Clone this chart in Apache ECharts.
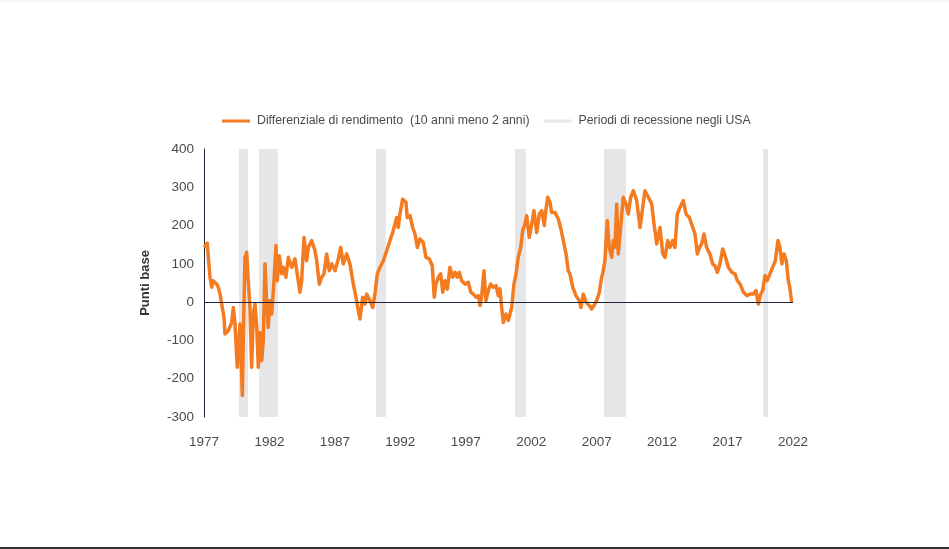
<!DOCTYPE html>
<html>
<head>
<meta charset="utf-8">
<script src="https://cdn.jsdelivr.net/npm/echarts@6/dist/echarts.min.js"></script>
<style>
html,body{margin:0;padding:0;background:#fff;}
#chart{width:949px;height:549px;}
</style>
</head>
<body>
<div id="chart"></div>
<script>
// Decimal years and spread values (basis points)
const years = [
 1977.00,1977.25,1977.33,1977.46,1977.59,1977.71,1977.97,1978.09,1978.22,1978.35,1978.53,1978.60,1978.86,
 1979.12,1979.24,1979.37,1979.54,1979.75,1979.93,1980.00,1980.13,1980.26,1980.38,1980.51,1980.64,1980.77,1980.90,
 1981.03,1981.15,1981.28,1981.41,1981.53,1981.66,1981.79,1981.91,1982.04,1982.17,1982.35,1982.50,1982.60,1982.75,1982.94,
 1983.06,1983.26,1983.44,1983.70,1983.95,1984.20,1984.33,1984.46,1984.64,1984.84,1984.97,
 1985.23,1985.48,1985.61,1985.81,1985.99,1986.17,1986.37,1986.57,1986.76,1987.01,1987.26,1987.44,1987.64,1987.90,
 1988.15,1988.41,1988.61,1988.79,1988.92,1989.12,1989.30,1989.43,1989.68,1989.89,1990.06,1990.24,1990.45,1990.70,1990.96,
 1991.21,1991.46,1991.72,1991.84,1991.97,1992.18,1992.43,1992.53,1992.74,1992.94,1993.12,1993.30,1993.50,1993.75,1993.96,
 1994.21,1994.44,1994.59,1994.72,1994.90,1995.08,1995.24,1995.41,1995.59,1995.79,1996.00,1996.18,1996.35,1996.50,1996.69,1996.94,
 1997.19,1997.38,1997.57,1997.78,1997.96,1998.09,1998.22,1998.39,1998.54,1998.72,1998.90,1999.10,1999.31,1999.48,1999.61,1999.74,1999.87,
 2000.07,2000.25,2000.51,2000.68,2000.84,2001.01,2001.20,2001.35,2001.52,2001.65,2001.85,2002.04,2002.21,2002.42,2002.62,2002.80,
 2003.00,2003.13,2003.26,2003.43,2003.56,2003.82,2004.07,2004.27,2004.45,2004.66,2004.83,2004.96,2005.17,2005.42,2005.67,2005.80,2005.98,
 2006.19,2006.44,2006.62,2006.79,2007.00,2007.20,2007.38,2007.46,2007.63,2007.81,2007.96,2008.15,2008.27,2008.40,2008.53,2008.65,2008.83,
 2009.03,2009.24,2009.42,2009.60,2009.80,2010.06,2010.31,2010.52,2010.69,2010.95,2011.21,2011.38,2011.59,2011.84,2012.05,2012.22,2012.43,2012.60,2012.81,2012.98,
 2013.16,2013.37,2013.62,2013.83,2014.08,2014.34,2014.51,2014.69,2014.89,2015.02,2015.20,2015.40,2015.65,2015.86,2016.04,2016.22,2016.42,2016.63,2016.81,
 2017.06,2017.32,2017.57,2017.75,2017.96,2018.21,2018.47,2018.72,2018.97,2019.17,2019.35,2019.53,2019.68,2019.86,2020.03,2020.24,2020.44,2020.65,2020.85,
 2021.00,2021.15,2021.31,2021.49,2021.64,2021.75,2021.90
];
const spread = [
 143,154,117,65,39,56,47,39,21,-5,-40,-83,-74,
 -53,-14,-57,-170,-57,-244,-100,117,130,56,-14,-170,-31,-5,
 -66,-170,-79,-153,-100,100,-5,-66,4,-31,56,148,56,121,74,
 91,65,117,91,113,56,26,56,169,108,143,
 161,134,108,47,65,74,126,82,100,82,113,143,100,126,
 100,47,13,-22,-44,13,-5,21,4,-14,21,74,91,108,134,
 161,187,221,195,230,269,261,221,226,195,178,143,165,156,117,
 113,95,13,47,65,74,26,56,34,91,65,78,65,78,56,47,
 52,26,21,13,17,-9,17,82,4,30,47,39,43,17,35,-14,-53,
 -31,-48,-14,47,74,117,143,187,204,226,169,204,239,182,230,239,
 200,243,274,261,234,234,217,191,161,126,82,74,39,17,4,-14,21,
 0,-9,-18,-9,4,25,65,74,108,213,143,117,161,143,256,126,195,
 274,256,230,274,291,265,195,248,291,274,256,204,152,195,126,117,161,143,161,143,
 230,248,265,230,221,195,178,126,145,152,178,143,126,100,95,78,100,139,121,
 91,78,74,56,47,26,17,21,21,30,-5,21,30,69,56,74,91,108,161,
 143,100,126,108,56,39,0
];
// US recession periods (decimal years)
const recessionStart = [1979.67, 1981.20, 1990.14, 2000.76, 2007.56, 2019.73];
const recessionEnd   = [1980.36, 1982.65, 1990.90, 2001.60, 2009.24, 2020.09];
const yTicks = [-300, -200, -100, 0, 100, 200, 300, 400];
const xTickYears = [1977, 1982, 1987, 1992, 1997, 2002, 2007, 2012, 2017, 2022];

const lineName = 'Differenziale di rendimento  (10 anni meno 2 anni)';
const bandName = 'Periodi di recessione negli USA';
const orange = '#F47B20';
const bandColor = '#E6E6E9';
const font = '"Liberation Sans", Arial, Helvetica, sans-serif';

const chart = echarts.init(document.getElementById('chart'), null, {renderer: 'canvas'});
chart.setOption({
  animation: false,
  backgroundColor: '#ffffff',
  textStyle: {fontFamily: font},
  graphic: [
    {type: 'rect', shape: {x: 0, y: 0, width: 949, height: 2}, style: {fill: '#f6f6f6'}, silent: true},
    {type: 'rect', shape: {x: 0, y: 547, width: 949, height: 2}, style: {fill: '#333333'}, silent: true}
  ],
  legend: {
    left: 217,
    top: 110,
    itemWidth: 28,
    itemHeight: 3,
    itemGap: 14,
    icon: 'rect',
    textStyle: {fontSize: 12.3, color: '#4a4a4a', fontFamily: font, padding: [0, 0, 0, 2]},
    data: [
      {name: lineName},
      {name: bandName, itemStyle: {color: bandColor}}
    ],
    selectedMode: false
  },
  grid: {left: 204, right: 156, top: 149, bottom: 132, containLabel: false},
  xAxis: {
    type: 'value',
    min: 1977,
    max: 2022,
    interval: 5,
    axisLine: {show: false},
    axisTick: {show: false},
    splitLine: {show: false},
    axisLabel: {
      margin: 18,
      fontSize: 13.5,
      color: '#4a4a4a',
      fontFamily: font,
      customValues: xTickYears,
      formatter: v => String(Math.round(v))
    }
  },
  yAxis: {
    type: 'value',
    min: -300,
    max: 400,
    interval: 100,
    name: 'Punti base',
    nameLocation: 'middle',
    nameGap: 52,
    nameTextStyle: {fontSize: 13, fontWeight: 'bold', color: '#333333', fontFamily: font},
    axisLine: {show: true, lineStyle: {color: '#1c2638', width: 1}},
    axisTick: {show: false},
    splitLine: {show: false},
    axisLabel: {
      margin: 10,
      fontSize: 13.5,
      color: '#4a4a4a',
      fontFamily: font,
      customValues: yTicks
    }
  },
  series: [
    {
      name: bandName,
      type: 'line',
      data: [],
      color: bandColor,
      silent: true,
      z: 1,
      markArea: {
        silent: true,
        itemStyle: {color: bandColor},
        data: recessionStart.map((s, i) => [{xAxis: s}, {xAxis: recessionEnd[i]}])
      }
    },
    {
      name: lineName,
      type: 'line',
      z: 3,
      color: orange,
      showSymbol: false,
      symbol: 'none',
      lineStyle: {color: orange, width: 3.5, join: 'round'},
      data: years.map((y, i) => [y, spread[i]]),
      markLine: {
        silent: true,
        symbol: 'none',
        label: {show: false},
        lineStyle: {color: '#1c2638', width: 1, type: 'solid'},
        z: 5,
        data: [{yAxis: 0}]
      }
    }
  ]
});
</script>
</body>
</html>
